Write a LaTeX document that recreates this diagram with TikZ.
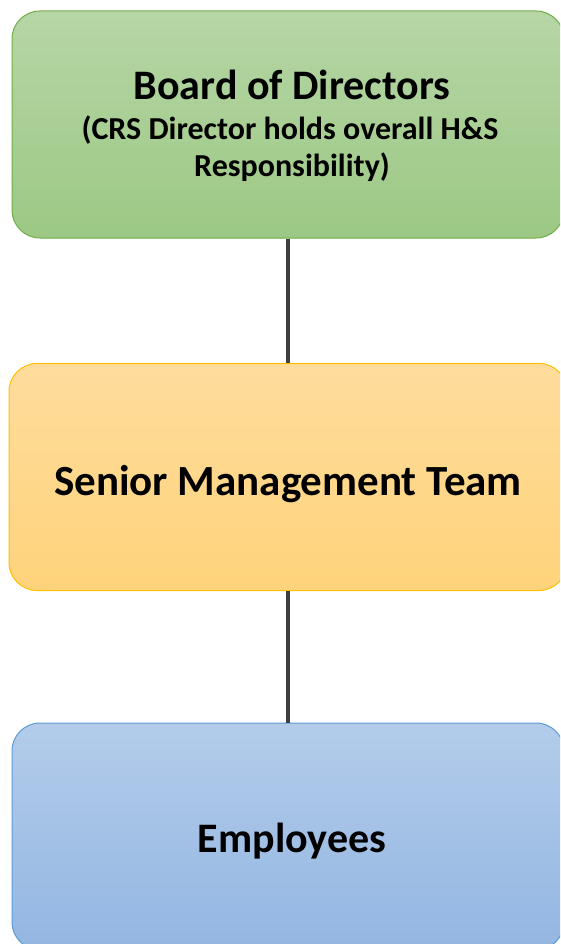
\documentclass[tikz,border=0pt]{standalone}
\usepackage{fontspec}
\setmainfont{Carlito}
\usetikzlibrary{positioning}
\definecolor{gTop}{HTML}{B6D6A6}
\definecolor{gBot}{HTML}{9CC884}
\definecolor{gLine}{HTML}{70AD47}
\definecolor{oTop}{HTML}{FEDC9C}
\definecolor{oBot}{HTML}{FFD37B}
\definecolor{oLine}{HTML}{FFC000}
\definecolor{bTop}{HTML}{B3CCEA}
\definecolor{bBot}{HTML}{93B6E2}
\definecolor{bLine}{HTML}{5B9BD5}
\definecolor{conn}{HTML}{404040}
\tikzset{
  orgbox/.style={rectangle, rounded corners=28pt, line width=1pt, minimum height=227pt, inner sep=0pt},
  titletext/.style={font=\bfseries\fontsize{42}{46}\selectfont, inner sep=0pt, anchor=base},
  subtext/.style={font=\bfseries\fontsize{32}{36}\selectfont, inner sep=0pt, anchor=base},
  link/.style={draw=conn, line width=3.5pt}
}
\begin{document}
\begin{tikzpicture}[x=1pt,y=-1pt]
\useasboundingbox (0,0) rectangle (560,944);
\fill[white] (0,0) rectangle (560,944);
\begin{scope}
\clip (0,0) rectangle (560,944);
\node[orgbox, draw=gLine, top color=gTop, bottom color=gBot, minimum width=552pt] (bod) at (288,124.5) {};
\node[orgbox, draw=oLine, top color=oTop, bottom color=oBot, minimum width=558pt] (smt) at (288,477) {};
\node[orgbox, draw=bLine, top color=bTop, bottom color=bBot, minimum width=552pt] (emp) at (288,836.5) {};
\draw[link] (bod.south) -- (smt.north);
\draw[link] (smt.south) -- (emp.north);
\node[titletext] (bodt) at (292,100) {Board of Directors};
\node[subtext] (bods1) at (290,140) {(CRS Director holds overall H\&S};
\node[subtext] (bods2) at (292,177) {Responsibility)};
\node[titletext, font=\bfseries\fontsize{43}{47}\selectfont] (smtt) at (288,495) {Senior Management Team};
\node[titletext] (empt) at (292,852) {Employees};
\end{scope}
\end{tikzpicture}
\end{document}
